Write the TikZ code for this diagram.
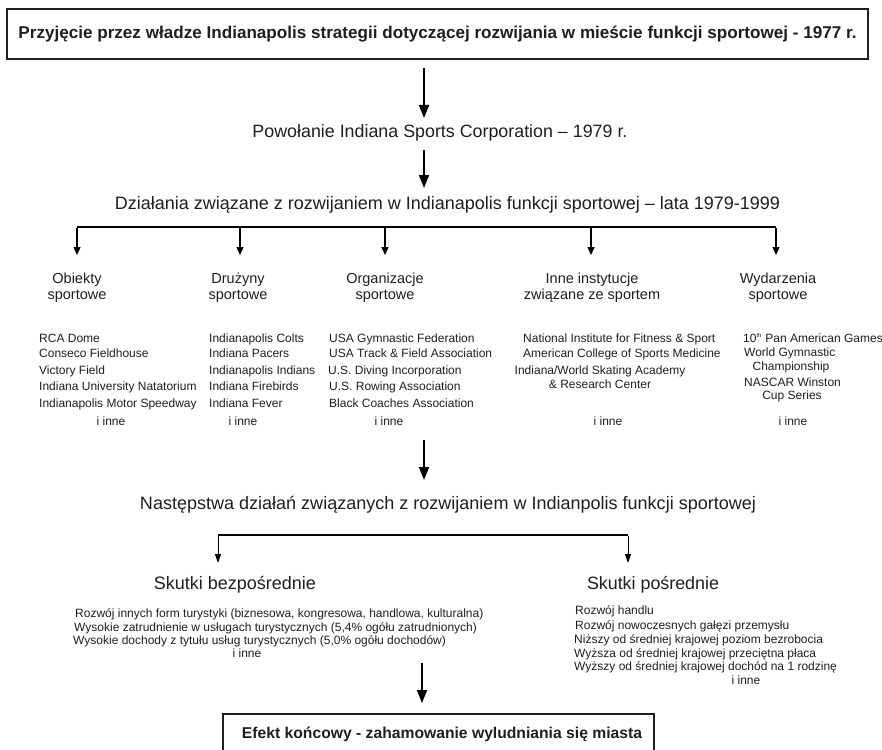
\documentclass[tikz,border=0pt]{standalone}
\usepackage{fontspec}
\setmainfont{Liberation Sans}
\usetikzlibrary{arrows.meta}
\newcommand{\fw}[2]{\resizebox{#1}{!}{#2}}
\begin{document}
\begin{tikzpicture}[x=1pt,y=-1pt,
  txt/.style={inner sep=0pt, text=black!88},
  item/.style={txt, font=\fontsize{12}{14}\selectfont, text height=8.8pt, text depth=2.6pt},
  head/.style={txt, font=\fontsize{14.5}{16}\selectfont, align=center},
  bigarr/.style={line width=1.8pt, -{Triangle[length=13pt,width=10pt]}},
  smallarr/.style={line width=1.3pt, -{Triangle[length=8pt,width=7pt]}},
  thinarr/.style={line width=1pt, -{Triangle[length=9pt,width=6pt]}},
  bus/.style={line width=1.5pt},
  box/.style={draw=black!88, line width=1.5pt, inner sep=0pt, text=black!88}]
\useasboundingbox (0,0) rectangle (882,749);
\fill[white] (0,0) rectangle (882,749);

% top box
\node[box, minimum width=861pt, minimum height=50pt] (top) at (437.5,34)
  {\fw{838pt}{\bfseries Przyjęcie przez władze Indianapolis strategii dotyczącej rozwijania w mieście funkcji sportowej - 1977 r.}};

\coordinate (a1s) at (424,68);
\coordinate (a1e) at (424,118);
\draw[bigarr] (a1s) -- (a1e);

\node[txt] (pow) at (440,133) {\fw{375pt}{Powołanie Indiana Sports Corporation – 1979 r.}};

\coordinate (a2s) at (424,150);
\coordinate (a2e) at (424,188);
\draw[bigarr] (a2s) -- (a2e);

\node[txt] (dzial) at (447.5,205) {\fw{665pt}{Działania związane z rozwijaniem w Indianapolis funkcji sportowej – lata 1979-1999}};

% bus 1
\coordinate (b1) at (77,227);
\coordinate (b2) at (240,227);
\coordinate (b3) at (385,227);
\coordinate (b4) at (591,227);
\coordinate (b5) at (776,227);
\draw[bus] (b1) -- (b5);
\foreach \b in {b1,b2,b3,b4,b5}{
  \coordinate (\b t) at ([yshift=-28pt]\b);
  \draw[smallarr] ([yshift=-0.7pt]\b) -- (\b t);
}

% headers
\node[head] (h1) at (77,288) {Obiekty\\sportowe};
\node[head] (h2) at (238,288) {Drużyny\\sportowe};
\node[head] (h3) at (385,288) {Organizacje\\sportowe};
\node[head] (h4) at (592,288) {Inne instytucje\\związane ze sportem};
\node[head] (h5) at (778,288) {Wydarzenia\\sportowe};

% column 1
\node[item, anchor=west] (c11) at (39,339) {RCA Dome};
\node[item, anchor=west] (c12) at (39,354) {Conseco Fieldhouse};
\node[item, anchor=west] (c13) at (39,371) {Victory Field};
\node[item, anchor=west] (c14) at (39,387) {Indiana University Natatorium};
\node[item, anchor=west] (c15) at (39,404) {Indianapolis Motor Speedway};
\node[item] (c1i) at (111,422) {i inne};
% column 2
\node[item, anchor=west] (c21) at (209,339) {Indianapolis Colts};
\node[item, anchor=west] (c22) at (209,354) {Indiana Pacers};
\node[item, anchor=west] (c23) at (209,371) {Indianapolis Indians};
\node[item, anchor=west] (c24) at (209,387) {Indiana Firebirds};
\node[item, anchor=west] (c25) at (209,404) {Indiana Fever};
\node[item] (c2i) at (243,422) {i inne};
% column 3
\node[item, anchor=west] (c31) at (329,339) {USA Gymnastic Federation};
\node[item, anchor=west] (c32) at (329,354) {USA Track \& Field Association};
\node[item, anchor=west] (c33) at (328,371) {U.S. Diving Incorporation};
\node[item, anchor=west] (c34) at (329,387) {U.S. Rowing Association};
\node[item, anchor=west] (c35) at (329,404) {Black Coaches Association};
\node[item] (c3i) at (389,422) {i inne};
% column 4
\node[item, anchor=west] (c41) at (523,339) {National Institute for Fitness \& Sport};
\node[item, anchor=west] (c42) at (523,354) {American College of Sports Medicine};
\node[item] (c43) at (600,371) {Indiana/World Skating Academy};
\node[item] (c44) at (600,385) {\& Research Center};
\node[item] (c4i) at (608,422) {i inne};
% column 5
\node[item, anchor=west] (c51) at (743,339) {10\textsuperscript{\fontsize{6}{6}\selectfont th} Pan American Games};
\node[item, anchor=west] (c52) at (744,353) {World Gymnastic};
\node[item] (c53) at (791,367) {Championship};
\node[item, anchor=west] (c54) at (744,383) {NASCAR Winston};
\node[item] (c55) at (792,396) {Cup Series};
\node[item] (c5i) at (793,422) {i inne};

\coordinate (a3s) at (424,440);
\coordinate (a3e) at (424,480);
\draw[bigarr] (a3s) -- (a3e);

\node[txt] (nast) at (448,505) {\fw{616pt}{Następstwa działań związanych z rozwijaniem w Indianpolis funkcji sportowej}};

% bus 2
\coordinate (d1) at (218,535);
\coordinate (d2) at (628,535);
\coordinate (d1t) at (218,563);
\coordinate (d2t) at (628,563);
\draw[bus] (d1) -- (d2);
\draw[thinarr] ([yshift=-0.7pt]d1) -- (d1t);
\draw[thinarr] ([yshift=-0.7pt]d2) -- (d2t);

\node[txt] (sb) at (235,585) {\fw{162pt}{Skutki bezpośrednie}};
\node[txt] (sp) at (653,585) {\fw{132pt}{Skutki pośrednie}};

% direct effects
\node[item, anchor=west] (e11) at (75,614) {Rozwój innych form turystyki (biznesowa, kongresowa, handlowa, kulturalna)};
\node[item, anchor=west] (e12) at (74,628) {Wysokie zatrudnienie w usługach turystycznych (5,4\% ogółu zatrudnionych)};
\node[item, anchor=west] (e13) at (73,641) {Wysokie dochody z tytułu usług turystycznych (5,0\% ogółu dochodów)};
\node[item] (e1i) at (247,654) {i inne};
% indirect effects
\node[item, anchor=west] (e21) at (575,611) {Rozwój handlu};
\node[item, anchor=west] (e22) at (575,626) {Rozwój nowoczesnych gałęzi przemysłu};
\node[item, anchor=west] (e23) at (574,640) {Niższy od średniej krajowej poziom bezrobocia};
\node[item, anchor=west] (e24) at (574,654) {Wyższa od średniej krajowej przeciętna płaca};
\node[item, anchor=west] (e25) at (574,667) {Wyższy od średniej krajowej dochód na 1 rodzinę};
\node[item] (e2i) at (746,681) {i inne};

\coordinate (a4s) at (422,663);
\coordinate (a4e) at (422,703);
\draw[bigarr] (a4s) -- (a4e);

% final box (bottom edge runs off the picture)
\node[box, minimum width=431pt, minimum height=42pt, anchor=north] (fin) at (438.5,713)
  {\hspace*{7pt}\fw{400pt}{\bfseries Efekt końcowy - zahamowanie wyludniania się miasta}};
\end{tikzpicture}
\end{document}
